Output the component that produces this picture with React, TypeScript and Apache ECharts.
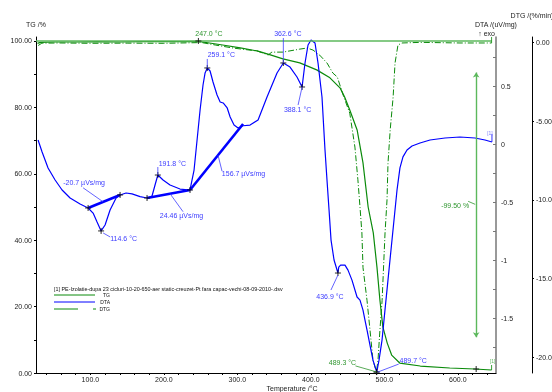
import React, { useEffect, useRef } from "react";
import * as echarts from "echarts";

const FONT = 'Arial, "Liberation Sans", sans-serif';
const GREEN = "#0a8a0a";
const LIGHT_GREEN = "#5cb85c";
const BLUE = "#0000ff";
const TXT_BLUE = "#3c3cff";
const TXT_GREEN = "#2f962f";

// tick labels
const xTickLabels = [100, 200, 300, 400, 500, 600];
const xTicks = [40, 60, 80, 100, 120, 140, 160, 180, 200, 220, 240, 260, 280, 300, 320, 340, 360, 380, 400, 420, 440, 460, 480, 500, 520, 540, 560, 580, 600, 620, 640];
const tgTickLabels = [0, 20, 40, 60, 80, 100];
const tgTicks = [0, 10, 20, 30, 40, 50, 60, 70, 80, 90, 100];
const dtaTickLabels = [-1.5, -1, -0.5, 0, 0.5];
const dtaTicks = [-1.75, -1.5, -1.25, -1, -0.75, -0.5, -0.25, 0, 0.25, 0.5, 0.75];
const dtgTickLabels = [-20, -15, -10, -5, 0];

// TG /% vs temperature
const tgData: number[][] = [
  [28, 99.3], [32, 99.6], [50, 99.7], [80, 99.7], [110, 99.8], [140, 99.7], [170, 99.8], [200, 99.8],
  [230, 99.8], [247, 99.9], [262, 99.4], [280, 98.8], [304, 97.9], [327, 97.0], [345, 95.8], [362, 94.6],
  [385, 93.4], [408, 91.3], [426, 88.9], [440, 85.8], [446, 83.1], [453, 79.2], [463, 73.2], [471, 63.3],
  [478, 50.0], [485, 42.2], [490, 31.9], [494, 22.0], [498, 13.9], [504, 9.0], [510, 5.4], [521, 3.0],
  [549, 2.1], [589, 1.5], [623, 1.2], [646, 0.9],
];

// DTA /(uV/mg)
const dtaData: number[][] = [
  [28.8, 0.037], [34.3, -0.067], [42.4, -0.205], [52.0, -0.308], [61.5, -0.394], [72.4, -0.463], [86.0, -0.515],
  [96.9, -0.549], [103.7, -0.593], [109.1, -0.671], [114.6, -0.747], [120.0, -0.696], [126.8, -0.567], [135.0, -0.463],
  [140.4, -0.437], [148.6, -0.420], [156.7, -0.428], [167.6, -0.451], [177.1, -0.463], [183.9, -0.446], [188.0, -0.351],
  [191.8, -0.265], [198.9, -0.308], [208.4, -0.351], [222.0, -0.386], [235.6, -0.394], [241.1, -0.222], [245.2, 0.037],
  [249.3, 0.296], [253.3, 0.511], [256.1, 0.615], [259.1, 0.658], [262.9, 0.632], [266.9, 0.537], [272.4, 0.425],
  [276.6, 0.365], [280.7, 0.356], [286.2, 0.313], [290.2, 0.235], [295.5, 0.166], [301.0, 0.141], [307.8, 0.160],
  [317.3, 0.166], [328.2, 0.209], [340.4, 0.408], [354.0, 0.615], [362.6, 0.701], [371.7, 0.666], [381.2, 0.580],
  [388.1, 0.494], [392.1, 0.701], [396.2, 0.856], [400.3, 0.899], [405.7, 0.873], [409.8, 0.701], [415.2, 0.408],
  [419.3, -0.049], [422.0, -0.308], [424.8, -0.567], [427.5, -0.826], [431.6, -0.998], [436.9, -1.110], [438.0, -1.059],
  [440.5, -1.042], [446.5, -1.042], [450.6, -1.085], [456.0, -1.171], [462.9, -1.317], [466.9, -1.343], [471.0, -1.430],
  [473.7, -1.516], [476.5, -1.602], [480.5, -1.731], [484.6, -1.861], [489.7, -1.964], [492.8, -1.861], [496.9, -1.688],
  [500.9, -1.430], [505.0, -1.171], [509.1, -0.911], [513.2, -0.653], [517.3, -0.394], [521.3, -0.204], [525.4, -0.109],
  [530.9, -0.049], [537.7, -0.015], [548.6, 0.011], [562.2, 0.037], [582.6, 0.054], [603.0, 0.063], [623.4, 0.054],
  [637.0, 0.037], [646.5, 0.020],
];

// DTG /(%/min)
const dtgData: number[][] = [
  [29, -0.2], [34, -0.05], [60, -0.04], [100, -0.06], [150, -0.05], [200, -0.06], [245, -0.02], [250, 0.0],
  [270, -0.17], [294, -0.36], [327, -0.55], [342, -0.8], [347, -0.62], [362, -0.62], [385, -0.43], [395, -0.36],
  [403, -0.49], [412, -0.81], [422, -1.31], [430, -1.95], [436, -2.2], [444, -3.35], [453, -4.5], [460, -6.65],
  [464, -8.7], [467, -10.5], [469.5, -12.1], [471, -14.3], [476.5, -16.4], [480.6, -18.3], [484.6, -20.2],
  [489.3, -20.93], [491.4, -20.2], [494, -18.3], [497, -16.4], [501, -12.1], [503.7, -10.0], [505, -7.7],
  [508, -5.57], [512, -3.47], [514.6, -1.31], [518.6, -0.17], [524, -0.04], [549, 0.0], [603, -0.04], [646, -0.04],
];

// DTA integration baselines
const dtaBaselines: number[][][] = [
  [[96.9, -0.549], [140.4, -0.437]],
  [[177.1, -0.463], [235.6, -0.394]],
  [[235.6, -0.394], [307.8, 0.175]],
];

// mass step
const stepRef: number[][] = [[26, 100], [646, 100]];
const stepArrow: number[][] = [[625, 90.5], [625, 10.8]];

// marker crosses: [yAxisIndex, T, value]
const crosses: number[][] = [
  [1, 96.9, -0.549], [1, 114.6, -0.747], [1, 140.4, -0.437], [1, 177.1, -0.463], [1, 191.8, -0.265],
  [1, 235.6, -0.394], [1, 259.1, 0.658], [1, 362.6, 0.701], [1, 388.1, 0.494], [1, 436.9, -1.110],
  [1, 489.7, -1.964], [0, 247.0, 100], [0, 625, 1.2], [2, 489.3, -20.93],
];

// annotation texts anchored at data points: [yAxisIndex, T, value]
const annoAnchors: number[][] = [
  [0, 247.0, 100], [1, 259.1, 0.658], [1, 362.6, 0.701], [1, 388.1, 0.494], [1, 191.8, -0.265],
  [1, 114.6, -0.747], [1, 117.3, -0.496], [1, 208.4, -0.426], [1, 273.7, -0.094], [1, 436.9, -1.110],
  [2, 489.3, -20.93], [1, 489.7, -1.964], [0, 625, 50.5],
];
const annoTexts = [
  "247.0 °C", "259.1 °C", "362.6 °C", "388.1 °C", "191.8 °C", "114.6 °C", "-20.7 µVs/mg", "24.46 µVs/mg",
  "156.7 µVs/mg", "436.9 °C", "489.3 °C", "489.7 °C", "-99.50 %",
];
const annoIsGreen = [true, false, false, false, false, false, false, false, false, false, true, false, true];
// layout: [dx, dy], [leaderX1, leaderY1, leaderX2, leaderY2] (pixels from anchor)
const annoLayout: (number[] | null)[][] = [
  [[10.5, -7], null],
  [[14, -13], [0, -9, 0, 0]],
  [[4.5, -29], [0, -25, 0, 0]],
  [[-4.5, 23], [-4, 18, 0, 0]],
  [[14.5, -12], [0, -8, 0, 0]],
  [[22.5, 8], [2, 2, 9, 6]],
  [[-19, -19], [-20, -14, 0, 0]],
  [[11.5, 22], [0, 0, 13, 18]],
  [[25.5, 18], [0, 0, 4, 16]],
  [[-8, 23], [-7, 17, 0, 2]],
  [[-34, -9], [-21, -6, 0, 0]],
  [[36.5, -12], [1, 0, 22, -8]],
  [[-21, 0], [-8, -4, -1, -1]],
];

const xAxisTitle = "Temperature /°C";
const legendTitle = "[1] PE-Izolatie-dupa 23 cicluri-10-20-650-aer static-creuzet-Pt fara capac-vechi-08-09-2010-.dsv";

export default function App() {
  const ref = useRef<HTMLDivElement>(null);
  useEffect(() => {
    if (!ref.current) return;
    const chart = echarts.init(ref.current, null, { renderer: "svg" });
    const labelStyle = { fontSize: 7, color: "#222", fontFamily: FONT };
    const option: any = {
      animation: false,
      grid: { left: 36, right: 56, top: 37, bottom: 19, containLabel: false, outerBoundsMode: "none" },
      xAxis: {
        type: "value", min: 26, max: 652,
        axisLine: { lineStyle: { color: "#000", width: 1 } },
        axisTick: { customValues: xTicks, length: 2, lineStyle: { color: "#000" } },
        axisLabel: { ...labelStyle, customValues: xTickLabels, margin: 3, formatter: (v: number) => v.toFixed(1) },
        splitLine: { show: false },
      },
      yAxis: [
        {
          type: "value", position: "left", min: 0, max: 101.2,
          name: "TG /%", nameLocation: "end", nameGap: 9,
          nameTextStyle: { fontSize: 7, color: "#222", fontFamily: FONT, align: "center" },
          axisLine: { show: true, lineStyle: { color: "#000", width: 1 } },
          axisTick: { show: true, customValues: tgTicks, length: 2, lineStyle: { color: "#000" } },
          axisLabel: { ...labelStyle, customValues: tgTickLabels, margin: 4, formatter: (v: number) => v.toFixed(2) },
          splitLine: { show: false },
        },
        {
          type: "value", position: "right", offset: 0, min: -1.972, max: 0.925,
          name: "DTA /(uV/mg)", nameLocation: "end", nameGap: 9,
          nameTextStyle: { fontSize: 7, color: "#222", fontFamily: FONT, align: "center" },
          axisLine: { show: true, lineStyle: { color: "#777", width: 1.5 } },
          axisTick: { show: true, inside: true, customValues: dtaTicks, length: 3, lineStyle: { color: "#777" } },
          axisLabel: { ...labelStyle, customValues: dtaTickLabels, margin: 5, formatter: (v: number) => String(v) },
          splitLine: { show: false },
        },
        {
          type: "value", position: "right", offset: 36, min: -21.0, max: 0.34,
          name: "DTG /(%/min)", nameLocation: "end", nameGap: 18,
          nameTextStyle: { fontSize: 7, color: "#222", fontFamily: FONT, align: "center" },
          axisLine: { show: true, lineStyle: { color: "#000", width: 1 } },
          axisTick: { show: true, customValues: dtgTickLabels, length: 2, lineStyle: { color: "#000" } },
          axisLabel: {
            ...labelStyle, customValues: dtgTickLabels, margin: 4,
            formatter: (v: number) => (Math.abs(v) >= 10 ? v.toFixed(1) : v.toFixed(2)),
          },
          splitLine: { show: false },
        },
      ],
      series: [
        {
          name: "TG", type: "line", yAxisIndex: 0, data: tgData, showSymbol: false, symbol: "none",
          lineStyle: { color: GREEN, width: 1.2 }, z: 3,
          markLine: {
            silent: true, animation: false, label: { show: false },
            data: [
              [
                { coord: stepRef[0], symbol: "none", lineStyle: { color: LIGHT_GREEN, width: 1.6, type: "solid" } },
                { coord: stepRef[1], symbol: "none" },
              ],
              [
                { coord: stepArrow[0], symbol: "arrow", symbolSize: 5, lineStyle: { color: LIGHT_GREEN, width: 1.4, type: "solid" } },
                { coord: stepArrow[1], symbol: "arrow", symbolSize: 5 },
              ],
            ],
          },
        },
        {
          name: "DTA", type: "line", yAxisIndex: 1, data: dtaData, showSymbol: false, symbol: "none",
          lineStyle: { color: BLUE, width: 1.2 }, z: 4,
          markLine: {
            silent: true, animation: false, label: { show: false }, symbol: "none",
            lineStyle: { color: BLUE, width: 2.6, type: "solid" },
            data: dtaBaselines.map((b) => [{ coord: b[0] }, { coord: b[1] }]),
          },
        },
        {
          name: "DTG", type: "line", yAxisIndex: 2, data: dtgData, showSymbol: false, symbol: "none",
          lineStyle: { color: GREEN, width: 1, type: [6, 2, 1, 2] }, z: 2,
        },
      ],
    };
    chart.setOption(option);

    const xPix = (t: number) => chart.convertToPixel({ xAxisIndex: 0 }, t) as unknown as number;
    const yPix = (a: number, v: number) => chart.convertToPixel({ yAxisIndex: a }, v) as unknown as number;
    const g: any[] = [];
    const line = (x1: number, y1: number, x2: number, y2: number, stroke: string, lw = 0.8, dash?: number[]) => ({
      type: "line", silent: true, z: 20,
      shape: { x1, y1, x2, y2 },
      style: { stroke, lineWidth: lw, lineDash: dash },
    });
    const text = (x: number, y: number, s: string, fill: string, size = 7, align = "center") => ({
      type: "text", silent: true, z: 21, x, y,
      style: { text: s, fill, fontSize: size, fontFamily: FONT, align, verticalAlign: "middle" },
    });

    crosses.forEach(([a, t, v]) => {
      const x = xPix(t), y = yPix(a, v);
      g.push(line(x - 3, y, x + 3, y, "#111", 0.9));
      g.push(line(x, y - 3, x, y + 3, "#111", 0.9));
    });
    annoAnchors.forEach(([a, t, v], i) => {
      const x = xPix(t), y = yPix(a, v);
      const [off, lead] = annoLayout[i];
      const col = annoIsGreen[i] ? TXT_GREEN : TXT_BLUE;
      if (lead) g.push(line(x + lead[0], y + lead[1], x + lead[2], y + lead[3], col, 0.8));
      g.push(text(x + (off as number[])[0], y + (off as number[])[1], annoTexts[i], col));
    });

    // curve end markers
    const dEnd = dtaData[dtaData.length - 1];
    const tEnd = tgData[tgData.length - 1];
    const dx = xPix(dEnd[0]), dy = yPix(1, dEnd[1]);
    g.push(line(dx, dy, dx, dy - 8, BLUE, 0.8));
    g.push(text(dx - 2, dy - 9, "[1]", "#8080ff", 5));
    const gx = xPix(tEnd[0]), gy = yPix(0, tEnd[1]);
    g.push(line(gx, gy, gx, gy - 5, GREEN, 0.8));
    g.push(text(gx + 1, gy - 9, "[1]", "#66bb66", 5));
    const rx = xPix(stepRef[1][0]), ry = yPix(0, stepRef[1][1]);
    g.push(line(rx, ry + 2, rx, ry - 4, GREEN, 0.8));

    // exo hint
    const axX = xPix(652);
    g.push(text(axX - 1, 33, "↑ exo", "#222", 7, "right"));

    // x axis title
    g.push(text(292, 388, xAxisTitle, "#222", 7));

    // legend
    g.push(text(54, 289, legendTitle, "#111", 5.4, "left"));
    g.push(line(54, 295, 95, 295, GREEN, 1));
    g.push(text(110, 295, "TG", "#111", 5, "right"));
    g.push(line(54, 302, 95, 302, BLUE, 1));
    g.push(text(110, 302, "DTA", "#111", 5, "right"));
    g.push(line(54, 309, 78, 309, GREEN, 1));
    g.push(line(93, 309, 96, 309, GREEN, 1));
    g.push(text(110, 309, "DTG", "#111", 5, "right"));

    chart.setOption({ graphic: g });
    return () => chart.dispose();
  }, []);
  return <div ref={ref} style={{ position: "fixed", left: 0, top: 0, width: 552, height: 392 }} />;
}
